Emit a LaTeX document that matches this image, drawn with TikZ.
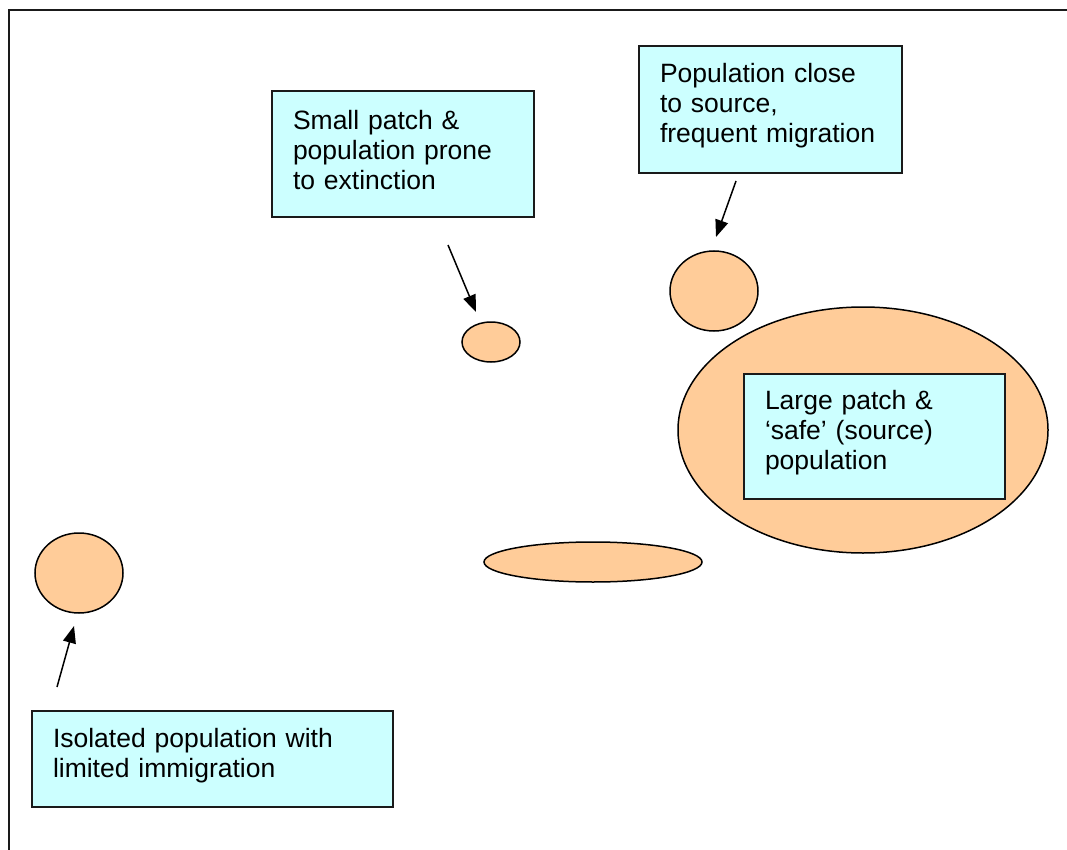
\documentclass[tikz,border=0pt]{standalone}
\usepackage{fontspec}
\setmainfont{Liberation Sans}
\usetikzlibrary{shapes.geometric,arrows.meta}
\definecolor{boxfill}{HTML}{CCFFFF}
\definecolor{patchfill}{HTML}{FFCC99}
\definecolor{frameline}{HTML}{1A1A1A}
\tikzset{
  label box/.style={draw=frameline, line width=1.5pt, fill=boxfill, rectangle,
    inner xsep=21pt, inner ysep=0pt, align=left,
    font=\fontsize{26.5}{30}\selectfont,
    execute at end node={\par\vspace*{7pt}}},
  patch/.style={draw=black, line width=1.5pt, fill=patchfill, ellipse, inner sep=0pt},
  pointer/.style={-{Triangle[length=17pt,width=13pt]}, line width=1.5pt, black}
}
\begin{document}
\begin{tikzpicture}[x=1pt,y=-1pt]
\useasboundingbox (0,0) rectangle (1067,850);
% outer frame (open on right and bottom)
\draw[frameline, line width=2.5pt] (9,852) -- (9,10) -- (1069,10);

% patches
\node[patch, minimum width=370pt, minimum height=246pt] (large) at (863,430) {};
\node[patch, minimum width=58pt, minimum height=40pt] (small) at (491,342) {};
\node[patch, minimum width=88pt, minimum height=80pt] (near) at (714,291) {};
\node[patch, minimum width=218pt, minimum height=40pt] (flat) at (593,562) {};
\node[patch, minimum width=88pt, minimum height=80pt] (isol) at (79,573) {};

% label boxes
\node[label box, text width=220pt, minimum height=126pt] (lsmall) at (403,154)
  {Small patch \&\\population prone\\to extinction};
\node[label box, text width=221pt, minimum height=127pt] (lnear) at (770.5,109.5)
  {Population close\\to source,\\frequent migration};
\node[label box, text width=219pt, minimum height=125pt] (llarge) at (874.5,436.5)
  {Large patch \&\\‘safe’ (source)\\population};
\node[label box, text width=319pt, minimum height=96pt] (lisol) at (212.5,759)
  {Isolated population with\\limited immigration};

% arrow ends
\coordinate (a1s) at (448,245);
\coordinate (a1e) at (476,312);
\coordinate (a2s) at (736,181);
\coordinate (a2e) at (716,237);
\coordinate (a3s) at (57,687);
\coordinate (a3e) at (74,626);
\draw[pointer] (a1s) -- (a1e);
\draw[pointer] (a2s) -- (a2e);
\draw[pointer] (a3s) -- (a3e);
\end{tikzpicture}
\end{document}
